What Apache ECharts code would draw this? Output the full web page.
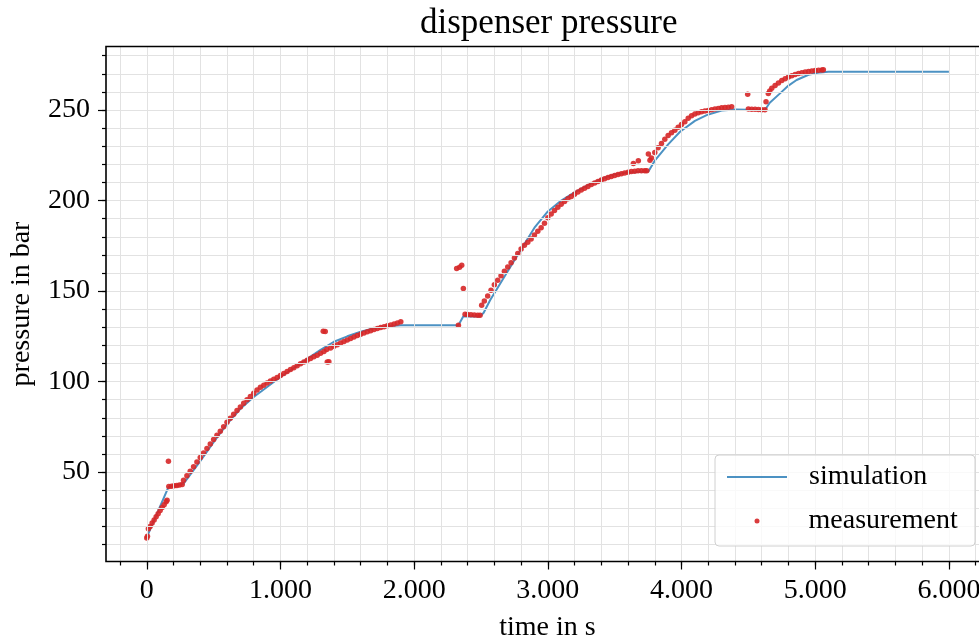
<!DOCTYPE html>
<html>
<head>
<meta charset="utf-8">
<title>dispenser pressure</title>
<script src="https://cdn.jsdelivr.net/npm/echarts@6/dist/echarts.min.js"></script>
<style>
  html, body { margin: 0; padding: 0; background: #fff; }
  #main { width: 979px; height: 638px; }
</style>
</head>
<body>
<div id="main"></div>
<script>
// simulation curve (time in s, pressure in bar)
var simTime = [0, 162, 274, 350, 400, 500, 600, 700, 800, 900, 1000, 1100, 1200, 1300, 1400, 1500, 1600, 1700, 1800, 1900,
  2331, 2368, 2493, 2520, 2568, 2700, 2842, 2900, 3000, 3100, 3200, 3300, 3400, 3500, 3600, 3752,
  3800, 3900, 3989, 4100, 4188, 4300, 4400, 4500, 4624, 4660, 4737, 4800, 4861, 4950, 5036, 5100, 6000];
var simPressure = [14.0, 41.7, 43.5, 51, 56, 66.5, 76.5, 85, 91.5, 97, 102.5, 107.5, 112.5, 117.5, 122, 125, 127.5, 129.5, 130.6, 131.1,
  131.1, 136.1, 136, 138, 144.9, 161, 178.1, 185, 194, 200, 204.5, 208.5, 212, 214.5, 215.5, 216,
  222, 231, 238, 244, 247.2, 249.7, 250.3, 250.2, 250, 254, 259.2, 263.5, 266.6, 269.5, 270.8, 271.2, 271.2];

// measured points
var measTime = [0, 5, 12, 25, 40, 55, 70, 85, 100, 115, 130, 145, 152, 162,
  165, 185, 205, 225, 245, 265,
  275, 300, 325, 350, 375, 400, 425, 450, 475, 500, 525, 550, 575, 600, 625, 650, 675, 700, 725, 750, 775, 800, 825, 850, 875, 900,
  925, 950, 975, 1000, 1025, 1050, 1075, 1100, 1125, 1150, 1175, 1200, 1225, 1250, 1275, 1300, 1320, 1325, 1335, 1346, 1350, 1362, 1375,
  1400, 1425, 1450, 1475, 1500, 1525, 1550, 1575, 1600, 1625, 1650, 1675, 1700, 1725, 1750, 1775, 1800, 1825, 1850, 1875, 1900,
  2318, 2331, 2340, 2356, 2368, 2381, 2400, 2425, 2450, 2475, 2493,
  2505, 2525, 2550, 2575, 2600, 2625, 2650, 2675, 2700, 2725, 2750, 2775, 2800, 2825, 2850, 2875, 2900, 2925, 2950, 2975,
  3000, 3025, 3050, 3075, 3100, 3125, 3150, 3175, 3200, 3225, 3250, 3275, 3300, 3325, 3350, 3375, 3400, 3425, 3450, 3475,
  3500, 3525, 3550, 3575, 3600, 3625, 3640, 3650, 3675, 3677, 3700, 3725, 3740, 3752,
  3764, 3775, 3800, 3825, 3850, 3875, 3900, 3925, 3950, 3975, 4000, 4025, 4050, 4075, 4100, 4125, 4150, 4175, 4200, 4225,
  4250, 4275, 4300, 4325, 4350, 4375, 4495,
  4500, 4525, 4550, 4575, 4600, 4624,
  4632, 4649, 4660, 4675, 4700, 4725, 4750, 4775, 4800, 4825, 4850, 4875, 4900, 4925, 4950, 4975, 5000, 5025, 5050, 5061];
var measPressure = [13.6, 14.5, 18.7, 20, 21.8, 23.5, 25.3, 27, 28.8, 30.5, 32, 33.6, 34.4, 56,
  42, 42.2, 42.4, 42.6, 42.8, 43.2,
  45.5, 48, 50.5, 53, 55.5, 58, 60.5, 63, 65.5, 68, 70.3, 72.5, 75, 77.5, 79.8, 82, 84, 86, 88, 90, 91.8, 93.5, 95.3, 96.8, 98, 99.2,
  100.3, 101.3, 102.3, 103.4, 104.4, 105.5, 106.6, 107.7, 108.8, 109.8, 110.8, 111.8, 112.8, 113.7, 114.6, 115.6, 127.8, 116.6, 127.6, 117.7, 110.8, 111, 118.5,
  119.5, 120.4, 121.3, 122.2, 123, 123.8, 124.6, 125.4, 126.1, 126.8, 127.5, 128.1, 128.7, 129.3, 129.8, 130.3, 130.8, 131.2, 131.8, 132.3, 133,
  162.4, 131.1, 163.2, 164.3, 151.4, 137.2, 137, 136.9, 136.8, 136.6, 136.6,
  142.2, 144.5, 147.3, 150.5, 153.5, 156, 158.5, 161, 163.3, 165.7, 168.2, 170.8, 173.3, 175.3, 177, 178.8, 181, 183, 185, 187.5,
  190.5, 192.5, 194.5, 196.3, 198, 199.5, 201, 202.3, 203.5, 204.7, 205.8, 206.8, 207.8, 208.8, 209.7, 210.5, 211.3, 212, 212.7, 213.3,
  213.9, 214.4, 214.8, 215.2, 215.6, 216, 220.5, 216.2, 216.4, 222, 216.5, 216.5, 216.5, 225.7,
  222.3, 223.5, 226.5, 229.2, 231.5, 233.8, 236, 237.5, 238.8, 240.5, 242, 243.5, 245.5, 246.8, 247.8, 248.5, 249, 249.4, 249.8, 250.2,
  250.6, 250.9, 251.2, 251.4, 251.6, 251.8, 258.7,
  250.6, 250.5, 250.4, 250.3, 250.2, 250.1,
  254.6, 259.2, 260.5, 262, 263.5, 265, 266.3, 267.3, 268.2, 269, 269.6, 270.2, 270.6, 271, 271.3, 271.6, 271.8, 272, 272.1, 272.3];

// axis ticks
var xMajor = [0, 1000, 2000, 3000, 4000, 5000, 6000];
var xMinor = [];
for (var v = -200; v <= 6200; v += 200) xMinor.push(v);
var yMajor = [50, 100, 150, 200, 250];
var yMinor = [];
for (var w = 10; w <= 280; w += 10) yMinor.push(w);

var font = 'Liberation Serif';
var gridColor = '#e2e2e2';

var simData = simTime.map(function (t, i) { return [t, simPressure[i]]; });
var measData = measTime.map(function (t, i) { return [t, measPressure[i]]; });

// grid lines at every minor tick, drawn as mark lines
var gridLines = xMinor.map(function (x) { return { xAxis: x }; })
  .concat(yMinor.map(function (y) { return { yAxis: y }; }));

function thousands(val) {
  return String(val).replace(/\B(?=(\d{3})+(?!\d))/g, '.');
}

var tickStyle = { color: '#000', width: 1.2 };

var chart = echarts.init(document.getElementById('main'));
chart.setOption({
  animation: false,
  backgroundColor: '#fff',
  title: {
    text: 'dispenser pressure',
    left: 415,
    top: 1,
    textStyle: { fontFamily: font, fontSize: 35, fontWeight: 'normal', color: '#000' }
  },
  grid: {
    left: 106, top: 46.5, width: 883, height: 515, z: 10,
    outerBoundsMode: 'none', containLabel: false,
    show: true, backgroundColor: 'transparent', borderColor: '#000', borderWidth: 1.6
  },
  graphic: [{
    type: 'rect', z: 15, silent: true,
    shape: { x: 715, y: 455, width: 260, height: 91, r: 4 },
    style: { fill: 'rgba(255,255,255,0.8)', stroke: '#d0d0d0', lineWidth: 1 }
  }],
  legend: [{
    orient: 'vertical', left: 715, top: 455, z: 20,
    padding: [7, 12, 7, 12],
    itemWidth: 60, itemHeight: 2,
    textStyle: { fontFamily: font, fontSize: 28, color: '#000', lineHeight: 30, padding: [0, 0, 0, 17] },
    data: [{ name: 'simulation', icon: 'rect' }]
  }, {
    orient: 'vertical', left: 742.5, top: 499, z: 20,
    padding: [7, 12, 7, 12],
    itemWidth: 5, itemHeight: 5,
    textStyle: { fontFamily: font, fontSize: 28, color: '#000', lineHeight: 30, padding: [0, 0, 0, 44] },
    data: [{ name: 'measurement', icon: 'circle' }]
  }],
  xAxis: [{
    type: 'value', min: -305, max: 6300, position: 'bottom',
    name: 'time in s', nameLocation: 'middle', nameGap: 52,
    nameTextStyle: { fontFamily: font, fontSize: 28, color: '#000' },
    axisLine: { show: false, onZero: false },
    axisTick: { show: true, customValues: xMinor, length: 4, lineStyle: tickStyle },
    axisLabel: { customValues: xMajor, margin: 15, fontFamily: font, fontSize: 28, color: '#000', formatter: thousands },
    splitLine: { show: false }
  }, {
    type: 'value', min: -305, max: 6300, position: 'bottom', offset: 0,
    axisLine: { show: false, onZero: false },
    axisTick: { show: true, customValues: xMajor, length: 8, lineStyle: tickStyle },
    axisLabel: { show: false },
    splitLine: { show: false }
  }],
  yAxis: [{
    type: 'value', min: 0.6, max: 285.1, position: 'left',
    name: 'pressure in bar', nameLocation: 'middle', nameGap: 70,
    nameTextStyle: { fontFamily: font, fontSize: 28, color: '#000' },
    axisLine: { show: false, onZero: false },
    axisTick: { show: true, customValues: yMinor, length: 4, lineStyle: tickStyle },
    axisLabel: { customValues: yMajor, margin: 16, fontFamily: font, fontSize: 28, color: '#000' },
    splitLine: { show: false }
  }, {
    type: 'value', min: 0.6, max: 285.1, position: 'left', offset: 0,
    axisLine: { show: false, onZero: false },
    axisTick: { show: true, customValues: yMajor, length: 8, lineStyle: tickStyle },
    axisLabel: { show: false },
    splitLine: { show: false }
  }],
  series: [{
    name: 'grid',
    type: 'scatter',
    data: [],
    symbolSize: 0,
    z: 1,
    silent: true,
    markLine: {
      silent: true,
      animation: false,
      symbol: ['none', 'none'],
      label: { show: false },
      lineStyle: { color: gridColor, width: 1, type: 'solid' },
      emphasis: { disabled: true },
      data: gridLines
    }
  }, {
    name: 'simulation',
    type: 'line',
    data: simData,
    symbol: 'none',
    color: 'rgba(31,119,180,0.8)',
    lineStyle: { width: 2, color: 'rgba(31,119,180,0.8)' },
    z: 2
  }, {
    name: 'measurement',
    type: 'scatter',
    data: measData,
    symbol: 'circle',
    symbolSize: 5.5,
    itemStyle: { color: '#d62728', opacity: 0.9 },
    z: 3
  }]
});
</script>
</body>
</html>
